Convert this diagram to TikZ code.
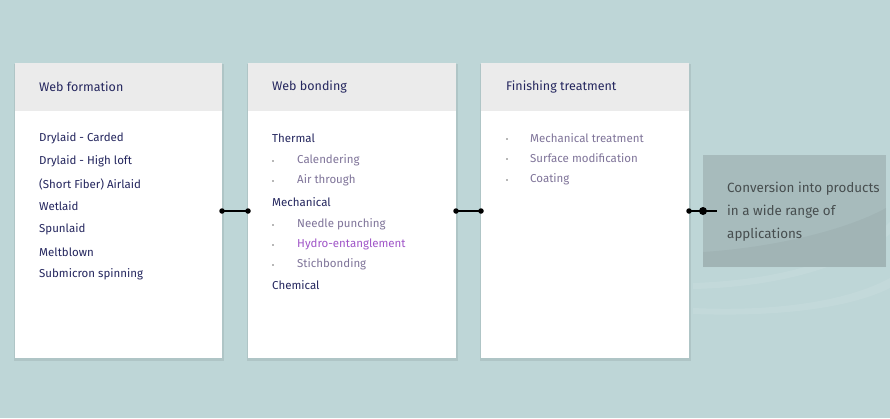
\documentclass[tikz,border=0pt]{standalone}
\usepackage{fontspec}
\setmainfont{Fira Sans}
\usetikzlibrary{calc}
\definecolor{bg}{HTML}{BED6D7}
\definecolor{hdr}{HTML}{EBEBEB}
\definecolor{navy}{HTML}{24265E}
\definecolor{subc}{HTML}{7F7499}
\definecolor{magc}{HTML}{A055C8}
\definecolor{bul}{HTML}{B8B8B8}
\definecolor{endbox}{HTML}{A7BBBC}
\definecolor{endtxt}{HTML}{474E4F}
\tikzset{
  card/.style={fill=white, draw=none},
  shadowbox/.style={fill=black, opacity=0.08, draw=none},
  head/.style={fill=hdr, draw=none},
  ttl/.style={anchor=west, inner sep=0pt, font=\fontsize{12.5}{15}\selectfont, text=navy},
  item/.style={anchor=west, inner sep=0pt, font=\fontsize{11.5}{14}\selectfont, text=navy},
  subitem/.style={anchor=west, inner sep=0pt, font=\fontsize{11.5}{14}\selectfont, text=subc},
  bulletdot/.style={fill=bul, draw=none, minimum size=2.4pt, inner sep=0pt},
  link/.style={line width=1.3pt, black},
  dotsm/.style={circle, fill=black, inner sep=0pt, minimum size=5.5pt},
  dotlg/.style={circle, fill=black, inner sep=0pt, minimum size=8pt},
}
\begin{document}
\begin{tikzpicture}[x=1pt,y=-1pt]
\useasboundingbox (0,0) rectangle (890,418);
\fill[bg] (0,0) rectangle (890,418);
% faint swooshes
\fill[white, opacity=0.08] (693,283) .. controls (780,280) and (850,260) .. (890,222) -- (890,234) .. controls (850,266) and (780,287) .. (693,289) -- cycle;
\fill[white, opacity=0.08] (693,308) .. controls (780,312) and (850,300) .. (890,278) -- (890,288) .. controls (850,308) and (780,317) .. (693,314) -- cycle;
% shadows
\foreach \xa/\xb in {15/222, 248/456, 481/689} {
  \fill[shadowbox] (\xa-1,64) rectangle (\xb+2,361);
}
% cards
\fill[card] (15,63) rectangle (222,358);
\fill[head] (15,63) rectangle (222,111);
\coordinate (c1w) at (15,211); \coordinate (c1e) at (222,211);
\fill[card] (248,63) rectangle (456,358);
\fill[head] (248,63) rectangle (456,111);
\coordinate (c2w) at (248,211); \coordinate (c2e) at (456,211);
\fill[card] (481,63) rectangle (689,358);
\fill[head] (481,63) rectangle (689,111);
\coordinate (c3w) at (481,211); \coordinate (c3e) at (689,211);
% end box
\fill[endbox] (703,155) rectangle (886,267);
\fill[black, opacity=0.035] (703,252) .. controls (780,247) and (850,228) .. (886,208) -- (886,267) -- (703,267) -- cycle;
\coordinate (c4w) at (703,211);
\coordinate (c4t) at (717,211);
% titles
\node[ttl] (t1) at (39,87) {Web formation};
\node[ttl] (t2) at (272,87) {Web bonding};
\node[ttl] (t3) at (506,87) {Finishing treatment};
% card 1 items
\node[item] (a1) at (39,138.5) {Drylaid - Carded};
\node[item] (a2) at (39,161) {Drylaid - High loft};
\node[item] (a3) at (39,184) {(Short Fiber) Airlaid};
\node[item] (a4) at (39,206.5) {Wetlaid};
\node[item] (a5) at (39,229) {Spunlaid};
\node[item] (a6) at (39,252) {Meltblown};
\node[item] (a7) at (39,274.5) {Submicron spinning};
% card 2 items
\node[item] (b1) at (272,138.5) {Thermal};
\node[bulletdot] (bb1) at (273,161) {};
\node[subitem] (b2) at (297,160) {Calendering};
\node[bulletdot] (bb2) at (273,181) {};
\node[subitem] (b3) at (297,180) {Air through};
\node[item] (b4) at (272,202) {Mechanical};
\node[bulletdot] (bb4) at (273,225) {};
\node[subitem] (b5) at (297,224) {Needle punching};
\node[bulletdot] (bb5) at (273,245) {};
\node[subitem, text=magc] (b6) at (297,244) {Hydro-entanglement};
\node[bulletdot] (bb6) at (273,265) {};
\node[subitem] (b7) at (297,264) {Stichbonding};
\node[item] (b8) at (272,285.5) {Chemical};
% card 3 items
\node[bulletdot] (cb1) at (507,139) {};
\node[subitem] (c1) at (530,138) {Mechanical treatment};
\node[bulletdot] (cb2) at (507,159) {};
\node[subitem] (c2) at (530,158) {Surface modification};
\node[bulletdot] (cb3) at (507,180) {};
\node[subitem] (c3) at (530,179) {Coating};
% end text
\node[anchor=north west, inner sep=0pt, align=left, text=endtxt,
      font=\fontsize{13.4}{23}\selectfont] (d1) at (727,182)
  {Conversion into products\\in a wide range of\\applications};
% connectors
\draw[link] (c1e) -- (c2w);
\node[dotsm] (p1) at (c1e) {};
\node[dotsm] (p2) at (c2w) {};
\draw[link] (c2e) -- (c3w);
\node[dotsm] (p3) at (c2e) {};
\node[dotsm] (p4) at (c3w) {};
\draw[link] (c3e) -- (c4t);
\node[dotsm] (p5) at (c3e) {};
\node[dotlg] (p6) at (c4w) {};
\end{tikzpicture}
\end{document}
